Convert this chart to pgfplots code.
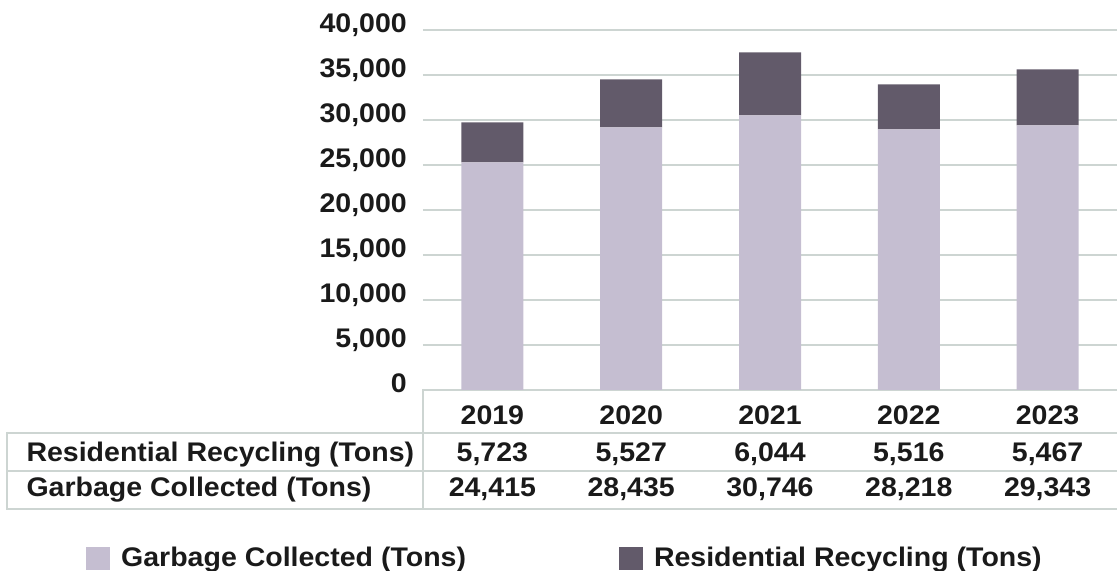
\documentclass[border=0pt]{standalone}
\usepackage{fontspec}
\setmainfont[FakeStretch=1.06]{Liberation Sans}
\usepackage{pgfplots}
\pgfplotsset{compat=1.18}
\definecolor{garb}{RGB}{197,190,209}
\definecolor{recy}{RGB}{98,90,106}
\definecolor{gridc}{RGB}{205,213,210}
\definecolor{txt}{RGB}{26,26,26}
\newcommand{\tf}{\fontsize{27}{32}\selectfont\bfseries\color{txt}}
\begin{document}
\begin{tikzpicture}[x=1bp,y=1bp]
\useasboundingbox (-423,-181) rectangle (694,390);
\begin{axis}[
 at={(0,0)}, anchor=south west,
 scale only axis, width=694bp, height=360bp,
 xmin=-0.5, xmax=4.5, ymin=0, ymax=40000,
 ybar stacked, bar width=62bp,
 xtick={0,1,2,3,4}, xticklabels={2019,2020,2021,2022,2023},
 ytick={0,5000,10000,15000,20000,25000,30000,35000,40000},
 yticklabels={0,{5,000},{10,000},{15,000},{20,000},{25,000},{30,000},{35,000},{40,000}},
 scaled y ticks=false,
 ymajorgrids, grid style={gridc, line width=2bp},
 axis line style={draw=none}, tick style={draw=none},
 major tick length=0pt,
 yticklabel style={font=\tf, anchor=base east, inner sep=0pt, xshift=-16bp, yshift=-3bp},
 xticklabel style={font=\tf, anchor=base, inner sep=0pt, yshift=-35bp},
 clip=false,
 legend columns=2,
 legend style={draw=none, fill=none, inner sep=0pt,
   at={(axis description cs:-0.4856,-0.468)}, anchor=west, font=\tf,
   /tikz/every even column/.append style={column sep=153bp},
   /tikz/every odd column/.append style={column sep=11bp},
   nodes={inner sep=0pt}},
 legend image code/.code={\path[fill, draw=none, #1] (0bp,-12bp) rectangle (24bp,11bp);},
]
\addplot[fill=garb, draw=none] coordinates {(0,25280) (1,29170) (2,30520) (3,28950) (4,29400)};
\addlegendentry{Garbage Collected (Tons)}
\addplot[fill=recy, draw=none] coordinates {(0,4450) (1,5350) (2,7000) (3,5010) (4,6230)};
\addlegendentry{Residential Recycling (Tons)}

\node[font=\tf, anchor=base west, xshift=-400bp, yshift=-72bp] at (axis cs:-0.5,0) {Residential Recycling (Tons)};
\node[font=\tf, anchor=base west, xshift=-400bp, yshift=-107bp] at (axis cs:-0.5,0) {Garbage Collected (Tons)};
\node[font=\tf, anchor=base, yshift=-72bp] at (axis cs:0,0) {5,723};
\node[font=\tf, anchor=base, yshift=-72bp] at (axis cs:1,0) {5,527};
\node[font=\tf, anchor=base, yshift=-72bp] at (axis cs:2,0) {6,044};
\node[font=\tf, anchor=base, yshift=-72bp] at (axis cs:3,0) {5,516};
\node[font=\tf, anchor=base, yshift=-72bp] at (axis cs:4,0) {5,467};
\node[font=\tf, anchor=base, yshift=-107bp] at (axis cs:0,0) {24,415};
\node[font=\tf, anchor=base, yshift=-107bp] at (axis cs:1,0) {28,435};
\node[font=\tf, anchor=base, yshift=-107bp] at (axis cs:2,0) {30,746};
\node[font=\tf, anchor=base, yshift=-107bp] at (axis cs:3,0) {28,218};
\node[font=\tf, anchor=base, yshift=-107bp] at (axis cs:4,0) {29,343};
\end{axis}
\draw[gridc, line width=2bp] (-416,-43) -- (694,-43);
\draw[gridc, line width=2bp] (-416,-81) -- (694,-81);
\draw[gridc, line width=2bp] (-416,-119) -- (694,-119);
\draw[gridc, line width=2bp] (-416,-42) -- (-416,-120);
\draw[gridc, line width=2bp] (0,1) -- (0,-120);
\end{tikzpicture}
\end{document}
